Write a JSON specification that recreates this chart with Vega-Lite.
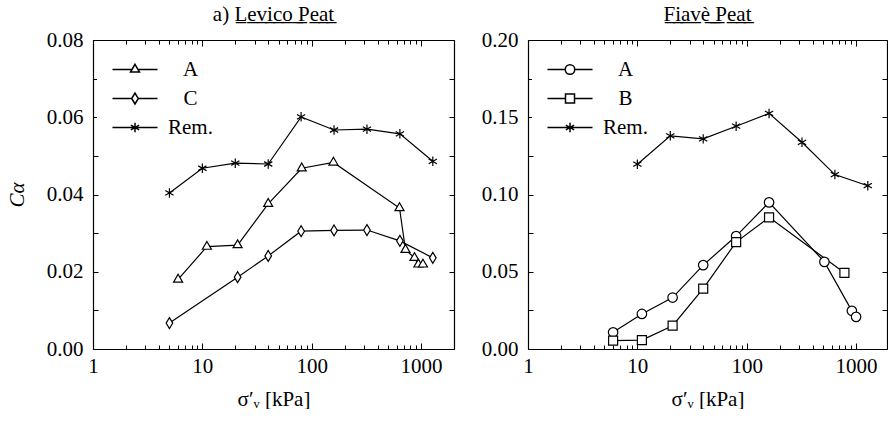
{
  "$schema": "https://vega.github.io/schema/vega-lite/v6.json",
  "padding": {"left": 6, "top": 4, "right": 0, "bottom": 0},
  "datasets": {
    "levico": [
      {"sigma": 5, "ca": 0.0404, "series": "Rem."},
      {"sigma": 10, "ca": 0.0468, "series": "Rem."},
      {"sigma": 20, "ca": 0.0481, "series": "Rem."},
      {"sigma": 40, "ca": 0.0479, "series": "Rem."},
      {"sigma": 80, "ca": 0.0601, "series": "Rem."},
      {"sigma": 160, "ca": 0.0567, "series": "Rem."},
      {"sigma": 320, "ca": 0.0569, "series": "Rem."},
      {"sigma": 640, "ca": 0.0557, "series": "Rem."},
      {"sigma": 1280, "ca": 0.0486, "series": "Rem."},
      {"sigma": 6, "ca": 0.018, "series": "A"},
      {"sigma": 11, "ca": 0.0265, "series": "A"},
      {"sigma": 21, "ca": 0.0269, "series": "A"},
      {"sigma": 40, "ca": 0.0376, "series": "A"},
      {"sigma": 81, "ca": 0.0468, "series": "A"},
      {"sigma": 158, "ca": 0.0483, "series": "A"},
      {"sigma": 635, "ca": 0.0365, "series": "A"},
      {"sigma": 720, "ca": 0.0257, "series": "A"},
      {"sigma": 870, "ca": 0.0236, "series": "A"},
      {"sigma": 945, "ca": 0.0219, "series": "A"},
      {"sigma": 1040, "ca": 0.0219, "series": "A"},
      {"sigma": 5, "ca": 0.0067, "series": "C"},
      {"sigma": 21, "ca": 0.0186, "series": "C"},
      {"sigma": 40, "ca": 0.0241, "series": "C"},
      {"sigma": 80, "ca": 0.0305, "series": "C"},
      {"sigma": 160, "ca": 0.0307, "series": "C"},
      {"sigma": 320, "ca": 0.0308, "series": "C"},
      {"sigma": 640, "ca": 0.028, "series": "C"},
      {"sigma": 1280, "ca": 0.0236, "series": "C"}
    ],
    "fiave": [
      {"sigma": 10, "ca": 0.1196, "series": "Rem."},
      {"sigma": 20, "ca": 0.138, "series": "Rem."},
      {"sigma": 40, "ca": 0.136, "series": "Rem."},
      {"sigma": 80, "ca": 0.1442, "series": "Rem."},
      {"sigma": 160, "ca": 0.1525, "series": "Rem."},
      {"sigma": 320, "ca": 0.1338, "series": "Rem."},
      {"sigma": 640, "ca": 0.1129, "series": "Rem."},
      {"sigma": 1280, "ca": 0.1057, "series": "Rem."},
      {"sigma": 6, "ca": 0.0108, "series": "A"},
      {"sigma": 11, "ca": 0.0227, "series": "A"},
      {"sigma": 21, "ca": 0.0333, "series": "A"},
      {"sigma": 40, "ca": 0.0543, "series": "A"},
      {"sigma": 80, "ca": 0.0731, "series": "A"},
      {"sigma": 160, "ca": 0.0949, "series": "A"},
      {"sigma": 513, "ca": 0.0564, "series": "A"},
      {"sigma": 915, "ca": 0.0247, "series": "A"},
      {"sigma": 1000, "ca": 0.0208, "series": "A"},
      {"sigma": 6, "ca": 0.0054, "series": "B"},
      {"sigma": 11, "ca": 0.0058, "series": "B"},
      {"sigma": 21, "ca": 0.0151, "series": "B"},
      {"sigma": 40, "ca": 0.0391, "series": "B"},
      {"sigma": 80, "ca": 0.0692, "series": "B"},
      {"sigma": 160, "ca": 0.0852, "series": "B"},
      {"sigma": 782, "ca": 0.0493, "series": "B"}
    ]
  },
  "hconcat": [
    {
      "width": 361,
      "height": 309,
      "title": {"text": "a) L\u0332e\u0332v\u0332i\u0332c\u0332o\u0332 \u0332P\u0332e\u0332a\u0332t\u0332"},
      "data": {"name": "levico"},
      "layer": [
        {
          "mark": {"type": "line", "color": "black", "strokeWidth": 1.2},
          "encoding": {
            "x": {"field": "sigma", "type": "quantitative",
              "scale": {"type": "log", "domain": [1, 2000], "nice": false},
              "axis": {"orient": "top", "title": null, "labels": false,
                "values": [1,2,3,4,5,6,7,8,9,10,20,30,40,50,60,70,80,90,100,200,300,400,500,600,700,800,900,1000],
                "tickSize": {"condition": {"test": "datum.value == 1 || datum.value == 10 || datum.value == 100 || datum.value == 1000", "value": -6}, "value": -4}}},
            "y": {"field": "ca", "type": "quantitative",
              "scale": {"domain": [0, 0.08], "nice": false, "zero": false},
              "axis": {"orient": "right", "title": null, "labels": false,
                "values": [0,0.01,0.02,0.03,0.04,0.05,0.06,0.07,0.08], "tickSize": -5}},
            "detail": {"field": "series"}
          }
        },
        {
          "mark": {"type": "point", "filled": false, "fill": "white", "fillOpacity": 1, "stroke": "black", "strokeWidth": 1.2, "size": 90, "opacity": 1},
          "encoding": {
            "x": {"field": "sigma", "type": "quantitative",
              "scale": {"type": "log", "domain": [1, 2000], "nice": false},
              "axis": {"orient": "bottom", "title": "σ′ᵥ [kPa]",
                "values": [1,2,3,4,5,6,7,8,9,10,20,30,40,50,60,70,80,90,100,200,300,400,500,600,700,800,900,1000],
                "labelExpr": "(datum.value == 1 || datum.value == 10 || datum.value == 100 || datum.value == 1000) ? format(datum.value, 'd') : ''",
                "tickSize": {"condition": {"test": "datum.value == 1 || datum.value == 10 || datum.value == 100 || datum.value == 1000", "value": -6}, "value": -4},
                "labelPadding": 12, "titlePadding": 10, "labelFlush": false, "labelOverlap": false}},
            "y": {"field": "ca", "type": "quantitative",
              "scale": {"domain": [0, 0.08], "nice": false, "zero": false},
              "axis": {"orient": "left", "title": "Cα", "titleFontStyle": "italic",
                "values": [0,0.01,0.02,0.03,0.04,0.05,0.06,0.07,0.08], "tickSize": -5,
                "labelExpr": "round(datum.value * 100) % 2 == 0 ? format(datum.value, '.2f') : ''",
                "labelPadding": 15, "titlePadding": 19, "labelFlush": false, "labelOverlap": false}},
            "shape": {"field": "series", "type": "nominal",
              "scale": {"domain": ["A", "C", "Rem."],
                "range": ["M0,-1.1L0.95,0.55L-0.95,0.55Z", "M0,-1.15L0.7,0L0,1.15L-0.7,0Z", "M0,-1L0,1M-0.87,-0.5L0.87,0.5M-0.87,0.5L0.87,-0.5"]},
              "legend": null}
          }
        },
        {
          "mark": {"type": "point", "filled": false, "stroke": "black", "strokeWidth": 1.2, "size": 90, "opacity": 0},
          "encoding": {
            "x": {"field": "sigma", "type": "quantitative", "scale": {"type": "log", "domain": [1, 2000], "nice": false}, "axis": null},
            "y": {"field": "ca", "type": "quantitative", "scale": {"domain": [0, 0.08], "nice": false, "zero": false}, "axis": null},
            "shape": {"field": "series", "type": "nominal",
              "scale": {"domain": ["A", "C", "Rem."],
                "range": ["M-4.75,0L-0.63,0M0.63,0L4.75,0M0,-1.1L0.95,0.55L-0.95,0.55Z", "M-4.75,0L-0.7,0M0.7,0L4.75,0M0,-1.15L0.7,0L0,1.15L-0.7,0Z", "M-4.75,0L4.75,0M0,-1L0,1M-0.87,-0.5L0.87,0.5M-0.87,0.5L0.87,-0.5"]},
              "legend": {"title": null, "orient": "none", "legendX": 4, "legendY": 13, "padding": 6,
                "fillColor": "white", "strokeColor": null, "symbolSize": 90, "symbolOpacity": 1,
                "symbolOffset": 21.5, "labelOffset": 45, "labelAlign": "center", "rowPadding": 7,
                "encode": {"symbols": {"update": {
                  "stroke": {"value": "black"}, "fill": {"value": "white"}, "strokeWidth": {"value": 1.2}, "opacity": {"value": 1}}}}}}
          }
        }
      ],
      "resolve": {"axis": {"x": "independent", "y": "independent"}, "scale": {"shape": "independent"}}
    },
    {
      "width": 359,
      "height": 309,
      "title": {"text": "F\u0332i\u0332a\u0332v\u0332è\u0332 \u0332P\u0332e\u0332a\u0332t\u0332"},
      "data": {"name": "fiave"},
      "layer": [
        {
          "mark": {"type": "line", "color": "black", "strokeWidth": 1.2},
          "encoding": {
            "x": {"field": "sigma", "type": "quantitative",
              "scale": {"type": "log", "domain": [1, 1917], "nice": false},
              "axis": {"orient": "top", "title": null, "labels": false,
                "values": [1,2,3,4,5,6,7,8,9,10,20,30,40,50,60,70,80,90,100,200,300,400,500,600,700,800,900,1000],
                "tickSize": {"condition": {"test": "datum.value == 1 || datum.value == 10 || datum.value == 100 || datum.value == 1000", "value": -6}, "value": -4}}},
            "y": {"field": "ca", "type": "quantitative",
              "scale": {"domain": [0, 0.2], "nice": false, "zero": false},
              "axis": {"orient": "right", "title": null, "labels": false,
                "values": [0,0.025,0.05,0.075,0.1,0.125,0.15,0.175,0.2], "tickSize": -5}},
            "detail": {"field": "series"}
          }
        },
        {
          "mark": {"type": "point", "filled": false, "fill": "white", "fillOpacity": 1, "stroke": "black", "strokeWidth": 1.2, "size": 90, "opacity": 1},
          "encoding": {
            "x": {"field": "sigma", "type": "quantitative",
              "scale": {"type": "log", "domain": [1, 1917], "nice": false},
              "axis": {"orient": "bottom", "title": "σ′ᵥ [kPa]",
                "values": [1,2,3,4,5,6,7,8,9,10,20,30,40,50,60,70,80,90,100,200,300,400,500,600,700,800,900,1000],
                "labelExpr": "(datum.value == 1 || datum.value == 10 || datum.value == 100 || datum.value == 1000) ? format(datum.value, 'd') : ''",
                "tickSize": {"condition": {"test": "datum.value == 1 || datum.value == 10 || datum.value == 100 || datum.value == 1000", "value": -6}, "value": -4},
                "labelPadding": 12, "titlePadding": 10, "labelFlush": false, "labelOverlap": false}},
            "y": {"field": "ca", "type": "quantitative",
              "scale": {"domain": [0, 0.2], "nice": false, "zero": false},
              "axis": {"orient": "left", "title": null,
                "values": [0,0.025,0.05,0.075,0.1,0.125,0.15,0.175,0.2], "tickSize": -5,
                "labelExpr": "round(datum.value * 1000) % 50 == 0 ? format(datum.value, '.2f') : ''",
                "labelPadding": 15, "labelFlush": false, "labelOverlap": false}},
            "shape": {"field": "series", "type": "nominal",
              "scale": {"domain": ["A", "B", "Rem."],
                "range": ["circle", "M-0.95,-0.95L0.95,-0.95L0.95,0.95L-0.95,0.95Z", "M0,-1L0,1M-0.87,-0.5L0.87,0.5M-0.87,0.5L0.87,-0.5"]},
              "legend": null}
          }
        },
        {
          "mark": {"type": "point", "filled": false, "stroke": "black", "strokeWidth": 1.2, "size": 90, "opacity": 0},
          "encoding": {
            "x": {"field": "sigma", "type": "quantitative", "scale": {"type": "log", "domain": [1, 1917], "nice": false}, "axis": null},
            "y": {"field": "ca", "type": "quantitative", "scale": {"domain": [0, 0.2], "nice": false, "zero": false}, "axis": null},
            "shape": {"field": "series", "type": "nominal",
              "scale": {"domain": ["A", "B", "Rem."],
                "range": ["M-4.75,0L-1,0M1,0L4.75,0M1,0A1,1,0,1,1,-1,0A1,1,0,1,1,1,0Z", "M-4.75,0L-0.95,0M0.95,0L4.75,0M-0.95,-0.95L0.95,-0.95L0.95,0.95L-0.95,0.95Z", "M-4.75,0L4.75,0M0,-1L0,1M-0.87,-0.5L0.87,0.5M-0.87,0.5L0.87,-0.5"]},
              "legend": {"title": null, "orient": "none", "legendX": 4, "legendY": 13, "padding": 6,
                "fillColor": "white", "strokeColor": null, "symbolSize": 90, "symbolOpacity": 1,
                "symbolOffset": 21.5, "labelOffset": 45, "labelAlign": "center", "rowPadding": 7,
                "encode": {"symbols": {"update": {
                  "stroke": {"value": "black"}, "fill": {"value": "white"}, "strokeWidth": {"value": 1.2}, "opacity": {"value": 1}}}}}}
          }
        }
      ],
      "resolve": {"axis": {"x": "independent", "y": "independent"}, "scale": {"shape": "independent"}}
    }
  ],
  "resolve": {"scale": {"shape": "independent"}, "legend": {"shape": "independent"}},
  "spacing": 25,
  "config": {
    "font": "Liberation Serif",
    "view": {"stroke": null},
    "axis": {"grid": false, "domainColor": "black", "domainWidth": 1.2, "tickColor": "black", "tickWidth": 1,
      "labelColor": "black", "titleColor": "black", "labelFont": "Liberation Serif", "titleFont": "Liberation Serif",
      "labelFontSize": 21, "titleFontSize": 21, "titleFontWeight": "normal"},
    "legend": {"labelFont": "Liberation Serif", "labelFontSize": 21, "labelColor": "black"},
    "title": {"font": "Liberation Serif", "fontSize": 21, "fontWeight": "normal", "color": "black", "anchor": "middle", "offset": 4}
  }
}
